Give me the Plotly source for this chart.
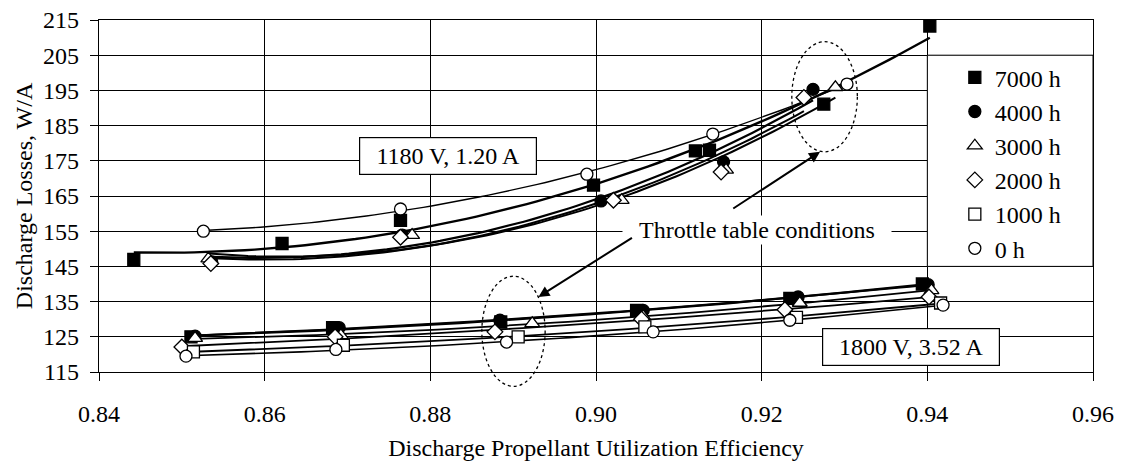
import numpy as np
import plotly.graph_objects as go

FONT = "Liberation Serif, Times New Roman, serif"

series_names = ["7000 h", "4000 h", "3000 h", "2000 h", "1000 h", "0 h"]

# 1180 V, 1.20 A condition
hi_7000_x = [0.8442, 0.8621, 0.8764, 0.8997, 0.9120, 0.9137, 0.9275, 0.9403]
hi_7000_y = [147.0, 151.5, 158.1, 168.1, 177.8, 178.0, 191.1, 213.3]
hi_4000_x = [0.8536, 0.8766, 0.9006, 0.9154, 0.9262]
hi_4000_y = [146.3, 153.9, 163.6, 174.7, 195.3]
hi_3000_x = [0.8532, 0.8778, 0.9031, 0.9157, 0.9289]
hi_3000_y = [147.2, 153.9, 163.8, 172.4, 195.9]
hi_2000_x = [0.8535, 0.8764, 0.9021, 0.9151, 0.9251]
hi_2000_y = [145.8, 153.3, 163.8, 171.8, 193.0]
hi_1000_x = []
hi_1000_y = []
hi_0_x = [0.8526, 0.8764, 0.8989, 0.9141, 0.9303]
hi_0_y = [155.0, 161.3, 171.2, 182.6, 196.8]

# 1800 V, 3.52 A condition
lo_7000_x = [0.8511, 0.8682, 0.8885, 0.9049, 0.9234, 0.9394]
lo_7000_y = [125.0, 127.6, 129.2, 132.5, 135.9, 140.0]
lo_4000_x = [0.8516, 0.8690, 0.8884, 0.9057, 0.9244, 0.9401]
lo_4000_y = [125.2, 127.6, 129.7, 132.5, 136.3, 139.8]
lo_3000_x = [0.8516, 0.8692, 0.8923, 0.9057, 0.9246, 0.9405]
lo_3000_y = [124.6, 125.4, 128.8, 130.8, 134.6, 138.2]
lo_2000_x = [0.8500, 0.8685, 0.8878, 0.9055, 0.9228, 0.9402]
lo_2000_y = [122.1, 125.0, 126.4, 130.0, 132.7, 136.3]
lo_1000_x = [0.8514, 0.8695, 0.8906, 0.9059, 0.9242, 0.9416]
lo_1000_y = [120.7, 122.6, 125.0, 127.8, 130.5, 134.6]
lo_0_x = [0.8505, 0.8686, 0.8892, 0.9069, 0.9234, 0.9419]
lo_0_y = [119.5, 121.4, 123.5, 126.4, 129.7, 134.0]

x_ticks = [0.84, 0.86, 0.88, 0.90, 0.92, 0.94, 0.96]
y_ticks = [115, 125, 135, 145, 155, 165, 175, 185, 195, 205, 215]

hi_sets = [(hi_7000_x, hi_7000_y), (hi_4000_x, hi_4000_y), (hi_3000_x, hi_3000_y),
           (hi_2000_x, hi_2000_y), (hi_1000_x, hi_1000_y), (hi_0_x, hi_0_y)]
lo_sets = [(lo_7000_x, lo_7000_y), (lo_4000_x, lo_4000_y), (lo_3000_x, lo_3000_y),
           (lo_2000_x, lo_2000_y), (lo_1000_x, lo_1000_y), (lo_0_x, lo_0_y)]

symbols = ["square", "circle", "triangle-up", "diamond", "square", "circle"]
fills = ["black", "black", "white", "white", "white", "white"]
sizes = [12, 12, 13, 12, 12, 12]
hi_widths = [2.4, 2.2, 2.0, 2.0, 2.0, 1.4]
lo_widths = [2.2, 2.0, 1.8, 1.8, 1.8, 1.6]

fig = go.Figure()

# polynomial (order 2) trendlines, as in the original spreadsheet chart
for sets, widths in ((hi_sets, hi_widths), (lo_sets, lo_widths)):
    for (xs, ys), w in zip(sets, widths):
        if len(xs) < 3:
            continue
        c = np.polyfit(xs, ys, 2)
        tx = np.linspace(min(xs), max(xs), 80)
        fig.add_trace(go.Scatter(x=tx, y=np.polyval(c, tx), mode="lines",
                                 line=dict(color="black", width=w),
                                 showlegend=False, hoverinfo="skip"))

for i, name in enumerate(series_names):
    mk = dict(symbol=symbols[i], size=sizes[i], color=fills[i],
              line=dict(color="black", width=1.3))
    hx, hy = hi_sets[i]
    lx, ly = lo_sets[i]
    fig.add_trace(go.Scatter(x=hx + lx, y=hy + ly, mode="markers", name=name,
                             marker=mk, legendgroup=name, showlegend=True))


def px(x):
    return (x - 0.84) / 0.12


def py(y):
    return (y - 115) / 100.0


shapes = [
    # legend box
    dict(type="rect", xref="x", yref="y", x0=0.94, x1=0.96, y0=145, y1=205,
         fillcolor="white", line=dict(color="black", width=1), layer="between"),
    # dotted ellipses around throttle table conditions
    dict(type="circle", xref="paper", yref="paper",
         x0=px(0.92364), x1=px(0.93155), y0=py(177.55), y1=py(208.83),
         line=dict(color="black", width=1.3, dash="dot"), layer="above"),
    dict(type="circle", xref="paper", yref="paper",
         x0=px(0.88622), x1=px(0.89386), y0=py(110.93), y1=py(142.21),
         line=dict(color="black", width=1.3, dash="dot"), layer="above"),
]

annotations = [
    dict(x=0.88216, y=176.3, xref="x", yref="y", text="1180 V, 1.20 A", showarrow=False,
         font=dict(family=FONT, size=24, color="black"), bgcolor="white",
         bordercolor="black", borderwidth=1.2, width=172, height=32, borderpad=2),
    dict(x=0.9380, y=122.1, xref="x", yref="y", text="1800 V, 3.52 A", showarrow=False,
         font=dict(family=FONT, size=24, color="black"), bgcolor="white",
         bordercolor="black", borderwidth=1.2, width=172, height=32, borderpad=2),
    dict(x=0.91941, y=155.3, xref="x", yref="y", text="Throttle table conditions",
         showarrow=False, font=dict(family=FONT, size=24, color="black"),
         bgcolor="white", width=268, height=28, borderpad=0),
    dict(x=0.92705, y=177.55, ax=0.91639, ay=161.18, xref="x", yref="y",
         axref="x", ayref="y", text="", showarrow=True, arrowhead=2,
         arrowsize=1.1, arrowwidth=2, arrowcolor="black"),
    dict(x=0.89305, y=136.33, ax=0.90452, ay=153.38, xref="x", yref="y",
         axref="x", ayref="y", text="", showarrow=True, arrowhead=2,
         arrowsize=1.1, arrowwidth=2, arrowcolor="black"),
]

axis_common = dict(showline=True, linecolor="black", linewidth=1.3, mirror=True,
                   showgrid=True, gridcolor="black", gridwidth=1,
                   ticks="outside", ticklen=8, tickcolor="black", tickwidth=1.2,
                   zeroline=False, automargin=False, ticklabeloverflow="allow",
                   tickfont=dict(family=FONT, size=24, color="black"))

# the page body adds an 8 px offset; margins compensate for it
fig.update_layout(
    width=1123, height=468,
    margin=dict(l=91, r=38, t=12, b=104),
    paper_bgcolor="white", plot_bgcolor="white",
    font=dict(family=FONT, size=24, color="black"),
    xaxis=dict(range=[0.84, 0.96], tickvals=x_ticks, tickformat=".2f",
               title=dict(text="Discharge Propellant Utilization Efficiency",
                          font=dict(family=FONT, size=24), standoff=13),
               ticklabelstandoff=12, **axis_common),
    yaxis=dict(range=[115, 215], tickvals=y_ticks,
               title=dict(text="Discharge Losses, W/A",
                          font=dict(family=FONT, size=24), standoff=3),
               ticklabelstandoff=6, **axis_common),
    legend=dict(x=0.861, y=0.9, xanchor="left", yanchor="top",
                bgcolor="rgba(0,0,0,0)", borderwidth=0,
                font=dict(family=FONT, size=24, color="black"),
                itemsizing="trace", tracegroupgap=0),
    shapes=shapes,
    annotations=annotations,
    showlegend=True,
)

fig.write_html("out.html")
